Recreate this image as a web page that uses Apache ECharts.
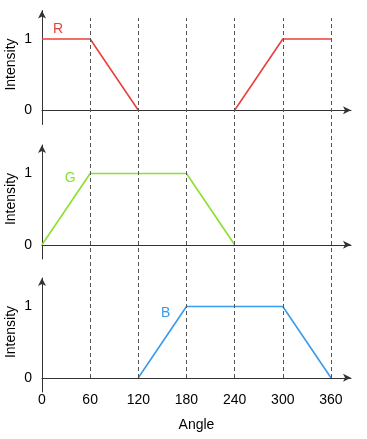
<!DOCTYPE html>
<html><head><meta charset="utf-8">
<script src="https://cdn.jsdelivr.net/npm/echarts@6/dist/echarts.min.js"></script>
<style>html,body{margin:0;padding:0;background:#fff}#c{width:367px;height:439px}</style>
</head><body><div id="c"></div>
<script>
const angles = [0, 60, 120, 180, 240, 300, 360];
const rValues = [1, 1, 0, null, 0, 1, 1];
const gValues = [0, 1, 1, 1, 0, null, null];
const bValues = [null, null, 0, 1, 1, 1, 0];
const xTickLabels = [0, 60, 120, 180, 240, 300, 360];
const yTickLabels = [0, 1];
const guideAngles = [60, 120, 180, 240, 300, 360];
const seriesNames = ['R', 'G', 'B'];
const seriesLabelPos = [[20, 1.14], [35, 0.94], [154, 0.9]];
const colors = ['#e8413b', '#8be02e', '#3a9aec'];
const yTitle = 'Intensity';
const xTitle = 'Angle';

const font = '"Liberation Sans", Helvetica, Arial, sans-serif';
const axisColor = '#333';
const tops = [10.5, 145, 278];
const gridH = 114;
const gridL = 42, gridW = 309;

function pairs(vals) {
  return angles.map((a, i) => [a, vals[i] === null ? '-' : vals[i]]);
}
const allVals = [rValues, gValues, bValues];

const gridBase = {containLabel: false, outerBoundsMode: 'none'};
const grid = tops.map(t => Object.assign({left: gridL, top: t, width: gridW, height: gridH}, gridBase));
grid.push(Object.assign({left: gridL, top: 18, width: gridW, height: 360}, gridBase));

const xAxis = [0, 1, 2, 3].map(i => ({
  type: 'value', gridIndex: i, min: 0, max: 385,
  show: i < 3,
  splitLine: {show: false},
  axisTick: {show: false},
  axisLine: {show: true, onZero: true, lineStyle: {color: axisColor, width: 1},
    symbol: ['none', 'arrow'], symbolSize: [6, 8]},
  axisLabel: {show: i === 2, customValues: xTickLabels, color: '#000',
    fontSize: 14, fontFamily: font, margin: 1},
  name: i === 2 ? xTitle : '',
  nameLocation: 'middle', nameGap: 26, nameMoveOverlap: false,
  nameTextStyle: {color: '#000', fontSize: 14, fontFamily: font}
}));
const yAxis = [0, 1, 2, 3].map(i => ({
  type: 'value', gridIndex: i,
  min: i < 3 ? -0.2 : 0, max: i < 3 ? 1.4 : 1,
  show: i < 3,
  splitLine: {show: false},
  axisTick: {show: false},
  axisLine: {show: true, onZero: false, lineStyle: {color: axisColor, width: 1},
    symbol: ['none', 'arrow'], symbolSize: [6, 8]},
  axisLabel: {customValues: yTickLabels, color: '#000', fontSize: 14,
    fontFamily: font, margin: 10},
  name: yTitle, nameLocation: 'middle', nameGap: 24, nameMoveOverlap: false,
  nameTextStyle: {color: '#000', fontSize: 14, fontFamily: font, padding: [0, 0, 0, 6]}
}));

const series = allVals.map((vals, i) => ({
  type: 'line', xAxisIndex: i, yAxisIndex: i, z: 3,
  data: pairs(vals), showSymbol: false, symbol: 'none', connectNulls: false,
  lineStyle: {color: colors[i], width: 1.6},
  markPoint: {
    symbol: 'circle', symbolSize: 0, silent: true,
    label: {show: true, position: 'inside', formatter: seriesNames[i],
      color: colors[i], fontSize: 14, fontFamily: font},
    data: [{coord: seriesLabelPos[i], value: seriesNames[i]}]
  }
}));
series.push({
  type: 'line', xAxisIndex: 3, yAxisIndex: 3, data: [], z: 1,
  markLine: {
    silent: true, symbol: 'none', animation: false,
    label: {show: false},
    lineStyle: {type: [4, 3], color: '#555', width: 1},
    data: guideAngles.map(a => ({xAxis: a}))
  }
});

const chart = echarts.init(document.getElementById('c'), null, {renderer: 'canvas'});
chart.setOption({animation: false, backgroundColor: '#fff', grid, xAxis, yAxis, series});
</script></body></html>
